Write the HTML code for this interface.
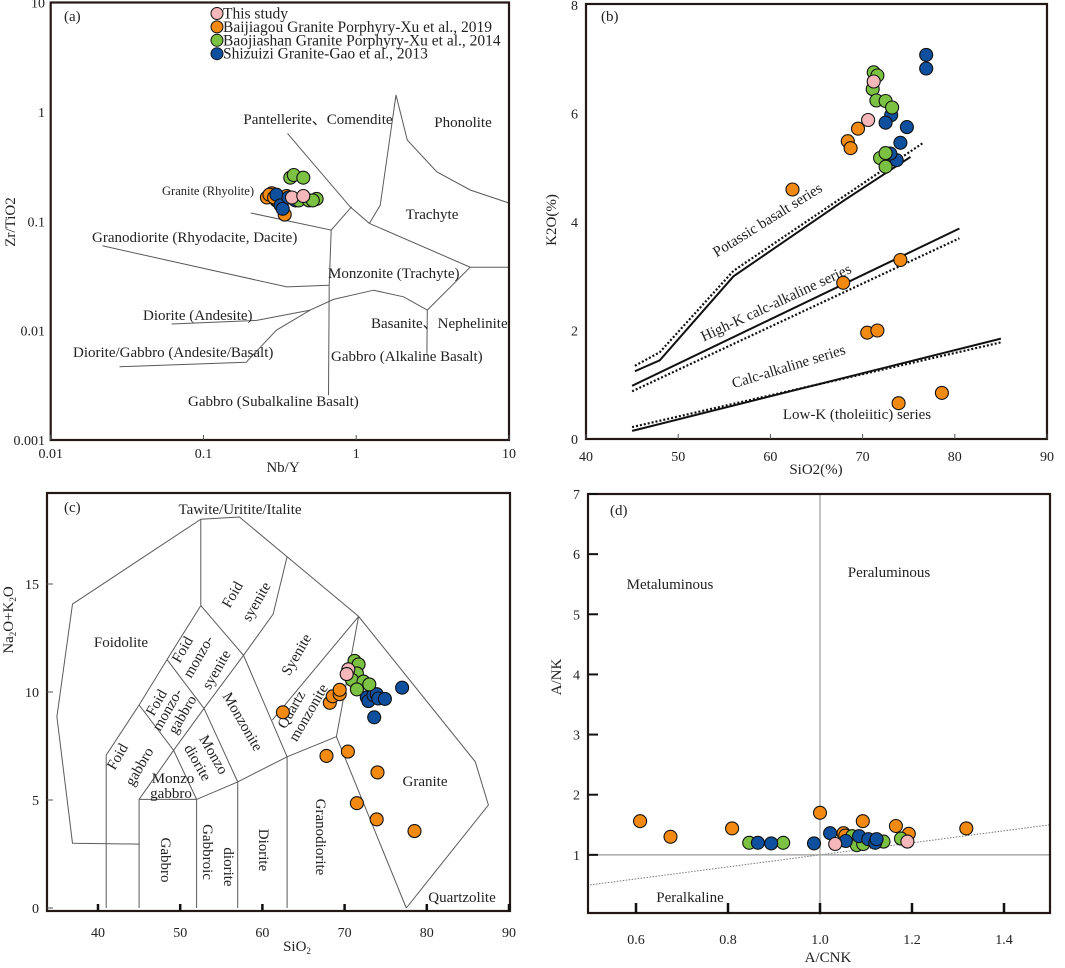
<!DOCTYPE html>
<html><head><meta charset="utf-8"><style>
body{margin:0;background:#fff}
svg{display:block;font-family:"Liberation Serif",serif}
</style></head><body>
<svg id="s" width="1065" height="968" viewBox="0 0 1065 968" xmlns="http://www.w3.org/2000/svg">
<g id="pa"></g>
<g id="pb"></g>
<g id="pc"></g>
<g id="pd"></g>
</svg>
<script>
// ---------- Data ----------
const seriesNames = ["This study","Baijiagou Granite Porphyry-Xu et al., 2019","Baojiashan Granite Porphyry-Xu et al., 2014","Shizuizi Granite-Gao et al., 2013"];
const seriesColors = ["#f5b7b9","#f28a12","#7cc242","#0e4f9e"];
// Panel a: Nb/Y, Zr/TiO2
const aOrangeX=[0.26,0.28,0.27,0.30,0.31,0.33,0.35,0.34,0.29];
const aOrangeY=[0.165,0.18,0.175,0.155,0.15,0.16,0.17,0.115,0.165];
const aGreenX=[0.37,0.39,0.45,0.42,0.49,0.55,0.52];
const aGreenY=[0.25,0.265,0.25,0.155,0.155,0.16,0.155];
const aBlueX=[0.30,0.32,0.33,0.40,0.36];
const aBlueY=[0.175,0.14,0.13,0.155,0.165];
const aPinkX=[0.38,0.45];
const aPinkY=[0.165,0.17];
// Panel b: SiO2, K2O
const bOrangeX=[62.4,67.9,68.4,68.7,69.5,70.5,71.6,74.1,73.9,78.6];
const bOrangeY=[4.6,2.88,5.49,5.36,5.72,1.96,2.0,3.3,0.66,0.85];
const bBlueX=[76.9,76.9,73.1,72.5,74.8,74.1,73.7,73.0];
const bBlueY=[7.08,6.83,5.97,5.83,5.75,5.46,5.14,5.26];
const bGreenX=[71.2,71.6,71.1,71.5,72.5,73.2,71.9,72.5,72.5];
const bGreenY=[6.76,6.70,6.45,6.24,6.23,6.11,5.18,5.27,5.02];
const bPinkX=[70.6,71.2];
const bPinkY=[5.88,6.59];
// Panel c: SiO2, Na2O+K2O
const cOrangeX=[62.5,68.2,68.55,69.4,69.4,67.8,70.4,74.0,71.5,73.9,78.5];
const cOrangeY=[9.06,9.5,9.8,9.9,10.1,7.04,7.24,6.28,4.85,4.1,3.56];
const cGreenX=[71.2,71.7,71.5,70.9,72.3,73.0,71.5];
const cGreenY=[11.44,11.28,10.86,10.56,10.48,10.35,10.12];
const cBlueX=[77.0,72.7,72.9,73.5,73.9,74.1,74.9,73.6];
const cBlueY=[10.2,9.75,9.58,9.85,9.9,9.7,9.68,8.83];
const cPinkX=[70.45,70.25];
const cPinkY=[11.05,10.83];
// Panel d: A/CNK, A/NK
const dOrangeX=[0.609,0.675,0.809,1.0,1.051,1.093,1.165,1.193,1.318,1.055];
const dOrangeY=[1.56,1.30,1.44,1.70,1.36,1.56,1.48,1.35,1.44,1.32];
const dGreenX=[0.846,0.92,1.07,1.08,1.094,1.138,1.176];
const dGreenY=[1.2,1.2,1.31,1.16,1.18,1.22,1.27];
const dBlueX=[0.865,0.894,0.987,1.022,1.056,1.085,1.105,1.12,1.123];
const dBlueY=[1.2,1.19,1.19,1.36,1.23,1.31,1.26,1.2,1.26];
const dPinkX=[1.033,1.19];
const dPinkY=[1.18,1.22];
// tick labels
const aXTicks=[0.01,0.1,1,10];
const aYTicks=[10,1,0.1,0.01,0.001];
const bXTicks=[40,50,60,70,80,90];
const bYTicks=[0,2,4,6,8];
const cXTicks=[40,50,60,70,80,90];
const cYTicks=[0,5,10,15];
const dXTicks=[0.6,0.8,1.0,1.2,1.4];
const dYTicks=[1,2,3,4,5,6,7];

const NS="http://www.w3.org/2000/svg";
const FS=15, TS=14;
function mk(parent,tag,attrs,text){const e=document.createElementNS(NS,tag);for(const k in attrs)e.setAttribute(k,attrs[k]);if(text!==undefined)e.textContent=text;parent.appendChild(e);return e;}
function linScale(d0,d1,p0,p1){return v=>p0+(v-d0)*(p1-p0)/(d1-d0);}
function logScale(d0,d1,p0,p1){return v=>p0+(Math.log10(v)-Math.log10(d0))*(p1-p0)/(Math.log10(d1)-Math.log10(d0));}
function poly(g,X,Y,pts,attrs,name){const d=pts.map((p,i)=>(i?'L':'M')+X(p[0]).toFixed(1)+','+Y(p[1]).toFixed(1)).join(' ');const e=mk(g,'path',Object.assign({d:d,fill:'none'},attrs));return e;}
function txt(g,x,y,s,size,name,extra){const e=mk(g,'text',Object.assign({x:x,y:y,'font-size':size,fill:'#222'},extra||{}),s);return e;}
function dots(g,X,Y,xs,ys,color,name){xs.forEach((v,i)=>{const c=mk(g,'circle',{cx:X(v).toFixed(1),cy:Y(ys[i]).toFixed(1),r:6.5,fill:color,stroke:'#111','stroke-width':1.1});});}
function frame(g,x0,y0,x1,y1,name){const r=mk(g,'rect',{x:x0,y:y0,width:x1-x0,height:y1-y0,fill:'none',stroke:'#231815','stroke-width':2.2});}
const LC={stroke:'#5a5a5a','stroke-width':1};

// ---------- Panel a ----------
(function(){
const g=document.getElementById('pa');
const X=logScale(0.01,10,50.7,509),Y=logScale(10,0.001,2.5,440);
const L=[
[[0.355,0.635],[0.912,0.1355],[1.219,0.0955],[5.57,0.038],[10,0.038]],
[[1.219,0.0955],[1.435,0.14],[1.82,1.426],[2.16,0.552],[3.37,0.283],[5.57,0.193],[9.93,0.147]],
[[0.204,0.119],[0.686,0.083],[0.933,0.1355]],
[[0.686,0.083],[0.665,0.026],[0.658,0.00257]],
[[0.0218,0.0596],[0.351,0.0251],[0.665,0.026]],
[[5.57,0.038],[2.92,0.0154],[2.9,0.00617]],
[[0.0282,0.00468],[0.19,0.00513],[0.3,0.0101],[0.5,0.0154],[0.71,0.0193],[1.3,0.0234],[2.04,0.0204],[2.92,0.0154]],
[[0.0619,0.0115],[0.223,0.0124],[0.5,0.0154]]
];
L.forEach((p,i)=>poly(g,X,Y,p,LC,'field-boundary-a-'+i));
frame(g,50.7,2.5,509,440,'panel-a-frame');
aXTicks.forEach(v=>{mk(g,'line',{x1:X(v),x2:X(v),y1:440,y2:435,stroke:'#555'});txt(g,X(v),458,String(v),TS,'x-tick-label-a',{'text-anchor':'middle'});});
aYTicks.forEach(v=>{txt(g,45,Y(v)+5,String(v),TS,'y-tick-label-a',{'text-anchor':'end'});});
txt(g,283,472,'Nb/Y',FS,'x-axis-title-a',{'text-anchor':'middle'});
txt(g,15,222,'Zr/TiO2',FS,'y-axis-title-a',{'text-anchor':'middle',transform:'rotate(-90 15 222)'});
txt(g,64,21,'(a)',FS,'panel-label-a');
const labs=[['Pantellerite、Comendite',318,124,FS,'middle'],['Phonolite',463,127,FS,'middle'],['Granite (Rhyolite)',208,195,12.5,'middle'],['Trachyte',432,219,FS,'middle'],['Granodiorite (Rhyodacite, Dacite)',92,242,FS,'start'],['Monzonite (Trachyte)',328,278,FS,'start'],['Diorite (Andesite)',143,320,FS,'start'],['Basanite、Nephelinite',371,328,FS,'start'],['Diorite/Gabbro (Andesite/Basalt)',73,357,FS,'start'],['Gabbro (Alkaline Basalt)',331,361,FS,'start'],['Gabbro (Subalkaline Basalt)',188,406,FS,'start']];
labs.forEach(l=>txt(g,l[1],l[2],l[0],l[3],'field-label-a',{'text-anchor':l[4]}));
dots(g,X,Y,aOrangeX,aOrangeY,seriesColors[1],'point-baijiagou');
dots(g,X,Y,aBlueX,aBlueY,seriesColors[3],'point-shizuizi');
dots(g,X,Y,aGreenX,aGreenY,seriesColors[2],'point-baojiashan');
dots(g,X,Y,aPinkX,aPinkY,seriesColors[0],'point-this-study');
const lg=mk(g,'g',{});
seriesNames.forEach((n,i)=>{const y=13.5+i*13.4;const c=mk(lg,'circle',{cx:217,cy:y,r:6,fill:seriesColors[i],stroke:'#111','stroke-width':1});txt(lg,223,y+5,n,15.5,'legend-entry');});
})();

// ---------- Panel b ----------
(function(){
const g=document.getElementById('pb');
const X=linScale(40,90,586,1047),Y=linScale(0,8,439,5);
const S={stroke:'#111','stroke-width':2},D={stroke:'#111','stroke-width':2.2,'stroke-dasharray':'2 2'};
poly(g,X,Y,[[45.3,1.25],[48,1.45],[56,3],[68,4.4],[75.2,5.2]],S,'boundary-shoshonitic-solid');
poly(g,X,Y,[[45.3,1.35],[48,1.6],[56,3.1],[76.5,5.45]],D,'boundary-shoshonitic-dotted');
poly(g,X,Y,[[45,0.98],[80.5,3.88]],S,'boundary-highk-solid');
poly(g,X,Y,[[45,0.88],[80.5,3.7]],D,'boundary-highk-dotted');
poly(g,X,Y,[[45,0.15],[85,1.85]],S,'boundary-lowk-solid');
poly(g,X,Y,[[45,0.22],[85,1.78]],D,'boundary-lowk-dotted');
frame(g,586,4,1047,439,'panel-b-frame');
bXTicks.forEach(v=>{mk(g,'line',{x1:X(v),x2:X(v),y1:439,y2:434,stroke:'#555'});txt(g,X(v),461,String(v),TS,'x-tick-label-b',{'text-anchor':'middle'});});
bYTicks.forEach(v=>{txt(g,578,Y(v)+5,String(v),TS,'y-tick-label-b',{'text-anchor':'end'});});
txt(g,816,474,'SiO2(%)',FS,'x-axis-title-b',{'text-anchor':'middle'});
txt(g,556,220,'K2O(%)',FS,'y-axis-title-b',{'text-anchor':'middle',transform:'rotate(-90 556 220)'});
txt(g,601,21,'(b)',FS,'panel-label-b');
txt(g,770,224,'Potassic basalt series',FS,'series-label-potassic',{'text-anchor':'middle',transform:'rotate(-32 770 224)'});
txt(g,778,307,'High-K calc-alkaline series',FS,'series-label-highk',{'text-anchor':'middle',transform:'rotate(-25 778 307)'});
txt(g,790,371,'Calc-alkaline series',FS,'series-label-calc-alkaline',{'text-anchor':'middle',transform:'rotate(-17 790 371)'});
txt(g,857,419,'Low-K (tholeiitic) series',FS,'series-label-lowk',{'text-anchor':'middle'});
dots(g,X,Y,bOrangeX,bOrangeY,seriesColors[1],'point-baijiagou');
dots(g,X,Y,bBlueX,bBlueY,seriesColors[3],'point-shizuizi');
dots(g,X,Y,bGreenX,bGreenY,seriesColors[2],'point-baojiashan');
dots(g,X,Y,bPinkX,bPinkY,seriesColors[0],'point-this-study');
})();

// ---------- Panel c ----------
(function(){
const g=document.getElementById('pc');
const X=linScale(40,90,98,509),Y=linScale(0,15,908,584);
const L=[
[[45,2.96],[36.9,3.0],[35.0,8.85],[36.9,14.07],[52.5,18.0],[57.2,18.1],[63.0,16.26],[71.7,13.5],[85.9,6.77],[87.5,4.77],[77.5,0]],
[[41,0],[41,7.08],[45,9.4],[48.4,11.5],[52.5,14.0],[52.5,18.0]],
[[52.5,14.0],[57.7,11.7],[63.0,7.0],[63.0,0]],
[[63.0,16.26],[61.3,13.6],[57.7,11.7]],
[[48.4,11.5],[52.9,9.24],[57.7,11.7]],
[[52.9,9.24],[57.0,5.84],[57.0,0]],
[[45,9.4],[49.2,7.3],[52.9,9.24]],
[[45,0],[45,5.03],[49.2,7.3],[52,5.03],[52,0]],
[[45,5.03],[52,5.03],[57.0,5.84],[63.0,7.0],[69.0,7.93],[71.7,13.5]],
[[61.2,8.7],[71.7,13.5]],
[[69.0,7.93],[77.5,0]]
];
L.forEach((p,i)=>poly(g,X,Y,p,LC,'field-boundary-c-'+i));
frame(g,47,493,510,911,'panel-c-frame');
cXTicks.forEach(v=>{mk(g,'line',{x1:X(v),x2:X(v),y1:911,y2:904,stroke:'#111','stroke-width':2.5});txt(g,X(v),937,String(v),TS,'x-tick-label-c',{'text-anchor':'middle'});});
cYTicks.forEach(v=>{mk(g,'line',{x1:47,x2:53,y1:Y(v),y2:Y(v),stroke:'#555'});txt(g,39,Y(v)+5,String(v),TS,'y-tick-label-c',{'text-anchor':'end'});});
const xt=txt(g,297,951,'SiO',FS,'x-axis-title-c',{'text-anchor':'middle'});mk(xt,'tspan',{'font-size':9,dy:3},'2');
const yt=txt(g,13,620,'',FS,'y-axis-title-c',{'text-anchor':'middle',transform:'rotate(-90 13 620)'});
mk(yt,'tspan',{},'Na');mk(yt,'tspan',{'font-size':9,dy:3},'2');mk(yt,'tspan',{dy:-3},'O+K');mk(yt,'tspan',{'font-size':9,dy:3},'2');mk(yt,'tspan',{dy:-3},'O');
txt(g,64,512,'(c)',FS,'panel-label-c');
const H=[['Tawite/Uritite/Italite',240,514],['Foidolite',121,647],['Monzo',173,783],['gabbro',171,798],['Granite',425,786],['Quartzolite',462,902]];
H.forEach(l=>txt(g,l[1],l[2],l[0],FS,'field-label-c',{'text-anchor':'middle'}));
const R=[['Foid',233,599,-60],['syenite',257,606,-60],['Syenite',297,659,-60],['Foid',183,654,-60],['monzo-',199,661,-60],['syenite',217,674,-60],['Foid',157,707,-60],['monzo-',168,714,-60],['gabbro',183,719,-60],['Monzonite',242,726,60],['Quartz',292,714,-60],['monzonite',309,717,-60],['Foid',118,761,-60],['gabbro',140,771,-60],['Monzo',213,759,60],['diorite',197,767,60],['Gabbro',165,864,90],['Gabbroic',207,856,90],['diorite',228,871,90],['Diorite',263,854,90],['Granodiorite',320,841,90]];
R.forEach(l=>txt(g,l[1],l[2],l[0],FS,'field-label-c',{'text-anchor':'middle',transform:'rotate('+l[3]+' '+l[1]+' '+(l[2]-4)+')'}));
dots(g,X,Y,cOrangeX,cOrangeY,seriesColors[1],'point-baijiagou');
dots(g,X,Y,cBlueX,cBlueY,seriesColors[3],'point-shizuizi');
dots(g,X,Y,cGreenX,cGreenY,seriesColors[2],'point-baojiashan');
dots(g,X,Y,cPinkX,cPinkY,seriesColors[0],'point-this-study');
})();

// ---------- Panel d ----------
(function(){
const g=document.getElementById('pd');
const X=linScale(0.5,1.5,590,1050),Y=linScale(0,7,915,494);
poly(g,X,Y,[[0.5,0.5],[1.5,1.5]],{stroke:'#777','stroke-width':1,'stroke-dasharray':'1.5 1.5'},'line-a-nk-equals-a-cnk');
poly(g,X,Y,[[1,0],[1,7]],{stroke:'#999','stroke-width':1.2},'line-a-cnk-1');
poly(g,X,Y,[[0.5,1],[1.5,1]],{stroke:'#999','stroke-width':1.2},'line-a-nk-1');
frame(g,588,494,1050,913,'panel-d-frame');
dXTicks.forEach(v=>{mk(g,'line',{x1:X(v),x2:X(v),y1:913,y2:903,stroke:'#111','stroke-width':2.5});txt(g,X(v),944,v.toFixed(1),TS,'x-tick-label-d',{'text-anchor':'middle'});});
dYTicks.forEach(v=>{mk(g,'line',{x1:588,x2:598,y1:Y(v),y2:Y(v),stroke:'#111','stroke-width':2});txt(g,580,Y(v)+5,String(v),TS,'y-tick-label-d',{'text-anchor':'end'});});
txt(g,828,962,'A/CNK',FS,'x-axis-title-d',{'text-anchor':'middle'});
txt(g,561,677,'A/NK',FS,'y-axis-title-d',{'text-anchor':'middle',transform:'rotate(-90 561 677)'});
txt(g,610,515,'(d)',FS,'panel-label-d');
txt(g,670,589,'Metaluminous',FS,'region-label-metaluminous',{'text-anchor':'middle'});
txt(g,889,577,'Peraluminous',FS,'region-label-peraluminous',{'text-anchor':'middle'});
txt(g,690,902,'Peralkaline',FS,'region-label-peralkaline',{'text-anchor':'middle'});
dots(g,X,Y,dOrangeX,dOrangeY,seriesColors[1],'point-baijiagou');
dots(g,X,Y,dGreenX,dGreenY,seriesColors[2],'point-baojiashan');
dots(g,X,Y,dBlueX,dBlueY,seriesColors[3],'point-shizuizi');
dots(g,X,Y,dPinkX,dPinkY,seriesColors[0],'point-this-study');
})();
</script>
</body></html>
